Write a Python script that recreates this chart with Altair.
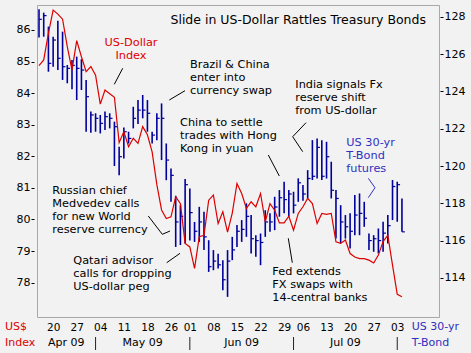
import json
import altair as alt
import pandas as pd

# ---------------- data ----------------
usd_index = [84.87, 85.05, 85.9, 86.63, 86.5, 86.34, 85.47, 84.73, 85.66, 85.15,
             84.68, 84.84, 84.57, 83.65, 84.1, 83.98, 83.87, 82.43, 82.78, 82.3,
             82.57, 82.41, 82.94, 82.68, 82.14, 81.1, 80.3, 80.03, 80.08, 80.72,
             80.5, 79.24, 79.13, 78.45, 79.45, 79.5, 80.61, 80.77, 79.87, 80.24,
             79.6, 80.2, 81.14, 80.82, 80.35, 80.56, 80.4, 80.82, 79.92, 80.5,
             80.29, 79.89, 79.89, 80.1, 79.66, 80.19, 80.4, 80.67, 80.5, 79.87,
             80.19, 80.16, 80.19, 79.29, 79.24, 79.35, 78.92, 78.81, 78.76, 78.76,
             78.71, 78.62, 78.87, 79.3, 79.5, 78.55, 77.63, 77.55]

bond_high = [128.41, 128.23, 127.48, 126.94, 127.8, 127.21, 125.42, 125.69, 125.87, 125.73,
             124.62, 122.92, 122.83, 122.74, 122.92, 122.83, 122.38, 121.04, 122.07, 121.84,
             123.18, 123.54, 123.81, 123.54, 121.84, 122.83, 123.36, 121.21, 119.87, 118.4,
             117.9, 119.3, 118.8, 117.0, 117.81, 117.55, 116.02, 115.49, 115.3, 114.95,
             115.49, 116.2, 116.83, 117.1, 118.0, 117.37, 116.29, 116.38, 117.63, 117.46,
             118.35, 118.71, 119.16, 118.71, 118.62, 119.34, 118.98, 119.78, 121.39, 121.48,
             121.39, 121.3, 120.23, 118.71, 117.9, 117.37, 117.46, 118.44, 118.53, 118.08,
             116.38, 116.29, 116.65, 117.01, 117.37, 119.25, 119.16, 118.26]

bond_low = [126.89, 126.94, 125.06, 125.33, 125.15, 124.62, 124.44, 124.12, 123.54, 124.08,
            121.84, 121.79, 121.84, 121.75, 121.93, 122.02, 120.0, 119.51, 120.41, 121.21,
            122.02, 122.25, 122.56, 121.84, 121.21, 121.39, 120.32, 119.24, 118.08, 115.66,
            115.76, 115.85, 116.0, 115.93, 115.93, 115.49, 114.32, 114.41, 114.5, 113.34,
            112.98, 114.95, 115.66, 115.93, 116.2, 115.31, 115.13, 114.68, 116.2, 116.47,
            116.56, 117.28, 117.46, 117.28, 117.46, 118.08, 118.14, 118.26, 119.25, 119.33,
            119.25, 119.33, 118.26, 116.11, 115.85, 116.11, 115.58, 116.29, 116.29, 116.74,
            115.49, 115.4, 115.31, 115.4, 115.85, 117.1, 117.01, 116.47]

bond_close = [127.87, 128.07, 125.51, 126.76, 125.78, 125.33, 125.24, 125.4, 125.24, 125.15,
              123.72, 122.74, 122.56, 122.29, 122.65, 122.56, 122.11, 120.5, 121.84, 121.48,
              122.56, 123.0, 123.0, 122.83, 121.66, 122.56, 122.56, 120.32, 119.5, 117.0,
              117.3, 119.0, 117.5, 116.5, 117.0, 116.2, 114.6, 114.9, 114.7, 113.9,
              114.9, 115.5, 116.5, 116.6, 117.3, 116.1, 116.0, 115.9, 117.0, 117.0,
              117.8, 118.3, 118.2, 118.5, 117.9, 119.1, 118.5, 119.33, 119.45, 121.0,
              119.45, 120.5, 118.7, 118.26, 117.0, 116.74, 116.5, 117.37, 117.46, 117.2,
              116.0, 116.1, 116.0, 116.4, 116.8, 118.9, 119.0, 116.47]

holidays = ["2009-05-25", "2009-07-03"]
dates = [d for d in pd.bdate_range("2009-04-15", "2009-08-04")
         if d.strftime("%Y-%m-%d") not in holidays]

usd_ticks = [78, 79, 80, 81, 82, 83, 84, 85, 86]
bond_ticks = [114, 116, 118, 120, 122, 124, 126, 128]

title_text = "Slide in US-Dollar Rattles Treasury Bonds"

# ---------------- derived tables ----------------
df = pd.DataFrame({
    "i": list(range(len(dates))),
    "date": [d.strftime("%Y-%m-%d") for d in dates],
    "usd": usd_index,
    "high": bond_high,
    "low": bond_low,
    "close": bond_close,
})

week_idx = [i for i in range(1, len(dates)) if dates[i].weekday() < dates[i - 1].weekday()]
week_labels = [dates[i].strftime("%d") for i in week_idx]
month_idx = [i for i in range(1, len(dates)) if dates[i].month != dates[i - 1].month]

X_MIN, X_MAX = -0.425, 84.86
bounds = [X_MIN] + month_idx
month_df = pd.DataFrame({
    "pos": [(bounds[k] + bounds[k + 1]) / 2 for k in range(len(month_idx))],
    "label": [dates[month_idx[k] - 1].strftime("%b %y") for k in range(len(month_idx))],
})
sep_df = pd.DataFrame({"pos": month_idx})

FONT = "DejaVu Sans"
RED = "#DD0000"
BLUE = "#00009C"
TEXTBLUE = "#3030C0"

x_scale = alt.Scale(domain=[X_MIN, X_MAX], nice=False, zero=False)
x_axis = alt.Axis(
    values=week_idx,
    labelExpr=f"{json.dumps(week_labels)}[indexof({json.dumps(week_idx)}, datum.value)]",
    domain=False, ticks=False, tickSize=0, grid=False, title=None,
    labelPadding=10, labelBaseline="middle", labelFontSize=10.5,
    labelFont=FONT, labelColor="black", labelFlush=False, labelOverlap=False,
)

bond_scale = alt.Scale(domain=[111.9, 128.64], nice=False, zero=False)
usd_scale = alt.Scale(domain=[76.91, 86.79], nice=False, zero=False)

bond_axis = alt.Axis(
    orient="right", values=bond_ticks, format="d", domain=False, grid=False,
    ticks=True, tickSize=3, tickColor="black", offset=1, labelPadding=1,
    labelFontSize=11, labelFont=FONT, labelColor="black", title=None,
    labelFlush=False)

bars = alt.Chart(df).mark_rule(color=BLUE, strokeWidth=1.6).encode(
    x=alt.X("i:Q", scale=x_scale, axis=x_axis),
    y=alt.Y("high:Q", scale=bond_scale, axis=bond_axis),
    y2="low:Q",
)
close_ticks = alt.Chart(df).transform_calculate(
    iend="datum.i + 0.6"
).mark_rule(color=BLUE, strokeWidth=1.2).encode(
    x=alt.X("i:Q", scale=x_scale, axis=x_axis),
    x2="iend:Q",
    y=alt.Y("close:Q", scale=bond_scale, axis=bond_axis),
)
bond = alt.layer(bars, close_ticks)

usd_line = alt.Chart(df).mark_line(color=RED, strokeWidth=1.2).encode(
    x=alt.X("i:Q", scale=x_scale, axis=x_axis),
    y=alt.Y("usd:Q", scale=usd_scale, axis=alt.Axis(
        orient="left", values=usd_ticks, format="d", domain=False, grid=False,
        ticks=True, tickSize=3, tickColor="black", offset=3, labelPadding=1,
        labelFontSize=11, labelFont=FONT, labelColor="black", title=None,
        labelFlush=False)),
)

month_text = alt.Chart(month_df).mark_text(
    fontSize=11, font=FONT, color="black", baseline="middle", align="center"
).encode(
    x=alt.X("pos:Q", scale=x_scale, axis=x_axis),
    y=alt.value(338),
    text="label:N",
)
seps = alt.Chart(sep_df).mark_rule(color="#222222", strokeWidth=1).encode(
    x=alt.X("pos:Q", scale=x_scale, axis=x_axis),
    y=alt.value(332),
    y2=alt.value(345),
)

one = pd.DataFrame({"k": [0]})


def note(lines, x, y, color="black", align="left", size=11.3, lh=13):
    return alt.Chart(one).mark_text(
        align=align, baseline="middle", fontSize=size, lineHeight=lh,
        color=color, font=FONT
    ).encode(x=alt.value(x), y=alt.value(y), text=alt.value(lines))


def seg(x1, y1, x2, y2, color="black"):
    return alt.Chart(one).mark_rule(color=color, strokeWidth=1).encode(
        x=alt.value(x1), y=alt.value(y1), x2=alt.value(x2), y2=alt.value(y2)
    )


notes = [
    note([title_text], 389, 15.3, align="right", size=12.5),
    note(["US-Dollar", "Index"], 94, 38.3, color=RED, align="center"),
    note(["Brazil & China", "enter into", "currency swap"], 153, 60),
    note(["China to settle", "trades with Hong", "Kong in yuan"], 143, 118.3),
    note(["India signals Fx", "reserve shift", "from US-dollar"], 258.3, 80),
    note(["US 30-yr", "T-Bond", "futures"], 309.3, 138.3, color=TEXTBLUE),
    note(["Russian chief", "Medvedev calls", "for new World", "reserve currency"], 15.3, 186),
    note(["Qatari advisor", "calls for dropping", "US-dollar peg"], 36.3, 256),
    note(["Fed extends", "FX swaps with", "14-central banks"], 235.3, 266.7),
    note(["US$", "Index"], -32, 322, color=RED, size=11, lh=16),
    note(["US 30-yr", "T-Bond"], 374.7, 322, color=TEXTBLUE, size=11, lh=16),
]

leaders = [
    seg(85.7, 63.3, 77.3, 79.3),
    seg(148, 85.7, 132.3, 95),
    seg(231.3, 150, 242.3, 171),
    seg(269, 117.7, 255.7, 131.7), seg(255.7, 131.7, 265.7, 146.7),
    seg(331.3, 173.3, 338, 182.7, TEXTBLUE), seg(338, 182.7, 331.3, 192.7, TEXTBLUE),
    seg(111.3, 211, 125.3, 229.3), seg(125.3, 229.3, 133, 226),
    seg(129.7, 257.7, 143, 248.3),
    seg(251.3, 233.3, 255.3, 257.7),
]

chart = alt.layer(
    bond, usd_line, month_text, seps, *notes, *leaders
).resolve_scale(
    y="independent"
).properties(
    width=402, height=312,
    autosize=alt.AutoSizeParams(type="none"),
    padding={"left": 37, "top": 5, "right": 32, "bottom": 36},
    background="#F2F2F2",
).configure_view(
    stroke="#A8A8A8", strokeWidth=1, fill="#F2F2F2"
)

chart.save("out.html", embed_options={"renderer": "svg", "actions": False})
